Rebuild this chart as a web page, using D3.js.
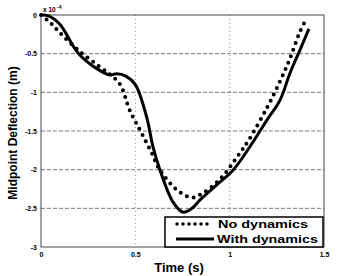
<!DOCTYPE html>
<head>
  <meta charset="utf-8" />
  <script src="https://cdn.jsdelivr.net/npm/d3@7"></script>
  <style>
    body { margin: 0; background: #fff; }
    svg { display: block; }
    text { font-family: "Liberation Sans", Arial, sans-serif; font-weight: bold; }
  </style>
</head>
<body>
  <svg width="337" height="276"></svg>
  <script>
    // data (deflection in units of 1e-4 m)
    const tNoDyn = [0, 0.05, 0.1, 0.2, 0.3, 0.366, 0.42, 0.47, 0.525, 0.58, 0.63, 0.72, 0.8, 0.86, 0.95, 1.05, 1.1, 1.2, 1.27, 1.32, 1.37, 1.4];
    const yNoDyn = [0, -0.1, -0.23, -0.46, -0.65, -0.77, -0.9, -1.23, -1.49, -1.75, -2.0, -2.26, -2.36, -2.3, -2.12, -1.8, -1.62, -1.19, -0.84, -0.56, -0.23, -0.08];
    const tWithDyn = [0, 0.04, 0.1, 0.196, 0.3, 0.366, 0.4, 0.45, 0.5, 0.56, 0.594, 0.63, 0.7, 0.753, 0.8, 0.843, 0.93, 1.02, 1.108, 1.2, 1.267, 1.32, 1.373, 1.42];
    const yWithDyn = [0, -0.01, -0.12, -0.49, -0.7, -0.776, -0.76, -0.79, -0.9, -1.32, -1.71, -2.0, -2.42, -2.55, -2.5, -2.39, -2.2, -2.0, -1.7, -1.35, -1.1, -0.75, -0.45, -0.18];
    const xTicks = [0, 0.5, 1, 1.5];
    const yTicks = [0, -0.5, -1, -1.5, -2, -2.5, -3];
    const legendLabels = ["No dynamics", "With dynamics"];

    const svg = d3.select("svg");
    const plotL = 41, plotR = 324, plotT = 15, plotB = 247;

    const x = d3.scaleLinear().domain([0, 1.5]).range([plotL, plotR]);
    const y = d3.scaleLinear().domain([-3, 0]).range([plotB, plotT]);

    // grid
    svg.append("g").selectAll("line").data(yTicks.slice(1, -1)).enter().append("line")
      .attr("x1", plotL).attr("x2", plotR)
      .attr("y1", d => y(d)).attr("y2", d => y(d))
      .attr("stroke", "#555").attr("stroke-width", 0.8).attr("stroke-dasharray", "4 2");
    svg.append("g").selectAll("line").data(xTicks.slice(1, -1)).enter().append("line")
      .attr("y1", plotT).attr("y2", plotB)
      .attr("x1", d => x(d)).attr("x2", d => x(d))
      .attr("stroke", "#777").attr("stroke-width", 0.8).attr("stroke-dasharray", "1 3");

    // axes
    const yAxis = d3.axisLeft(y).tickValues(yTicks).tickSize(0).tickPadding(4).tickFormat(d => d);
    const xAxis = d3.axisBottom(x).tickValues(xTicks).tickSize(0).tickPadding(5).tickFormat(d => d);
    const gy = svg.append("g").attr("transform", `translate(${plotL},0)`).call(yAxis);
    const gx = svg.append("g").attr("transform", `translate(0,${plotB})`).call(xAxis);
    [gx, gy].forEach(g => {
      g.select(".domain").remove();
      g.selectAll("text").attr("font-size", 7).attr("font-weight", "bold").attr("fill", "#000")
        .attr("font-family", "Liberation Sans, Arial, sans-serif");
    });

    // frame
    svg.append("rect").attr("x", plotL).attr("y", plotT)
      .attr("width", plotR - plotL).attr("height", plotB - plotT)
      .attr("fill", "none").attr("stroke", "#333").attr("stroke-width", 0.9);

    svg.append("text").attr("x", 43).attr("y", 12).attr("font-size", 6.5).text("x 10");
    svg.append("text").attr("x", 57).attr("y", 9).attr("font-size", 5).text("-4");

    const line = d3.line().x(d => x(d[0])).y(d => y(d[1])).curve(d3.curveCatmullRom);

    svg.append("path").datum(d3.zip(tWithDyn, yWithDyn))
      .attr("d", line).attr("fill", "none").attr("stroke", "#000").attr("stroke-width", 3);
    svg.append("path").datum(d3.zip(tNoDyn, yNoDyn))
      .attr("d", line).attr("fill", "none").attr("stroke", "#000").attr("stroke-width", 4)
      .attr("stroke-linecap", "round").attr("stroke-dasharray", "0 7");

    // legend
    const lg = svg.append("g");
    lg.append("rect").attr("x", 165).attr("y", 217).attr("width", 158).attr("height", 30)
      .attr("fill", "#fff").attr("stroke", "#000").attr("stroke-width", 1.5);
    lg.append("line").attr("x1", 177).attr("x2", 211).attr("y1", 224).attr("y2", 224)
      .attr("stroke", "#000").attr("stroke-width", 3.5).attr("stroke-linecap", "round").attr("stroke-dasharray", "0 6");
    lg.append("line").attr("x1", 176).attr("x2", 214).attr("y1", 239).attr("y2", 239)
      .attr("stroke", "#000").attr("stroke-width", 3);
    lg.selectAll("text.lab").data(legendLabels).enter().append("text")
      .attr("x", d => d === "No dynamics" ? 218 : 217)
      .attr("y", (d, i) => 228 + i * 15)
      .attr("font-size", 11.5)
      .attr("textLength", (d, i) => i ? 101 : 90)
      .attr("lengthAdjust", "spacingAndGlyphs")
      .text(d => d);

    // axis titles
    svg.append("text").attr("x", 179).attr("y", 272).attr("text-anchor", "middle")
      .attr("font-size", 13).text("Time (s)");
    svg.append("text").attr("transform", "translate(17,133) rotate(-90)")
      .attr("text-anchor", "middle").attr("font-size", 12).text("Midpoint Deflection (m)");
  </script>
</body>
